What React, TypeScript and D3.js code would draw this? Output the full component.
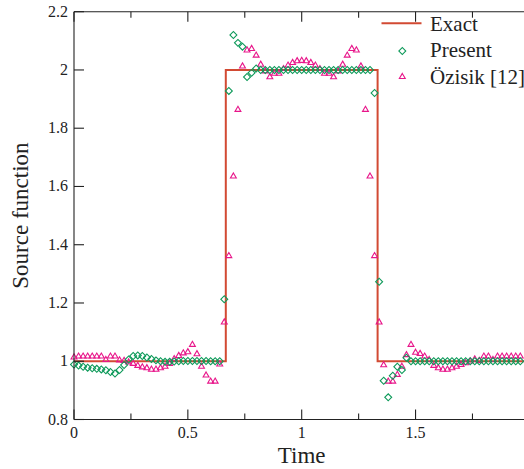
import React from "react";
import * as d3 from "d3";

const timeStep = 0.02;
const presentValues = [
  0.989, 0.985, 0.981, 0.978, 0.976, 0.974, 0.972, 0.969, 0.963, 0.958,
  0.970, 0.987, 1.006, 1.018, 1.020, 1.018, 1.013, 1.008, 1.003, 1.000,
  0.998, 0.998, 0.999, 1.000, 1.001, 1.001, 1.001, 1.001, 1.001, 1.001,
  1.000, 1.000, 1.000, 1.213, 1.928, 2.120, 2.093, 2.080, 1.976, 1.990,
  2.005, 2.000, 2.000, 2.000, 2.000, 2.000, 2.000, 2.000, 2.000, 2.000,
  2.000, 2.000, 2.000, 2.000, 2.000, 2.000, 2.000, 2.000, 2.000, 2.000,
  2.000, 2.000, 2.000, 2.000, 2.000, 2.000, 1.921, 1.273, 0.933, 0.876,
  0.950, 0.981, 0.970, 1.012, 1.000, 1.000, 1.000, 1.000, 1.000, 1.000,
  1.000, 1.000, 1.000, 1.000, 1.000, 1.000, 1.000, 1.000, 1.000, 1.000,
  1.000, 1.000, 1.000, 1.000, 1.000, 1.000, 1.000, 1.000, 1.000,
];
const ozisikValues = [
  1.012, 1.015, 1.015, 1.015, 1.015, 1.015, 1.015, 1.003, 1.015, 1.015,
  1.002, 1.000, 0.995, 0.990, 0.983, 0.978, 0.975, 0.970, 0.970, 0.975,
  0.980, 0.990, 1.006, 1.017, 1.026, 1.030, 1.055, 1.023, 0.980, 0.950,
  0.929, 0.929, 0.988, 1.132, 1.360, 1.633, 1.862, 2.011, 2.066, 2.071,
  2.048, 2.017, 1.994, 1.974, 1.986, 1.986, 2.002, 2.014, 2.023, 2.029,
  2.030, 2.029, 2.023, 2.014, 2.002, 1.986, 1.986, 1.974, 1.994, 2.017,
  2.048, 2.071, 2.066, 2.011, 1.862, 1.633, 1.360, 1.132, 0.985, 0.929,
  0.929, 0.952, 0.980, 1.020, 1.055, 1.028, 1.024, 1.015, 1.003, 0.983,
  0.975, 0.970, 0.970, 0.975, 0.980, 0.986, 0.992, 0.998, 1.005, 1.000,
  1.015, 1.015, 1.003, 1.015, 1.015, 1.015, 1.015, 1.015, 1.015,
];
const exactTimes = [0, 2 / 3, 2 / 3, 4 / 3, 4 / 3, 2];
const exactValues = [1, 1, 2, 2, 1, 1];
const xMajorTicks = [0, 0.5, 1, 1.5, 2];
const xMinorTicks = [0.25, 0.75, 1.25, 1.75];
const yTicks = [0.8, 1, 1.2, 1.4, 1.6, 1.8, 2, 2.2];
const legendLabels = ["Exact", "Present", "Özisik [12]"];

const W = 524;
const H = 469;
const X0 = 74;
const PX_PER_UNIT = 227.7;
const YB = 419.5;
const YT = 11.7;

const RED = "#d24a33";
const GREEN = "#0e9a5a";
const MAGENTA = "#e8168a";
const FF = "Liberation Serif";
const textStyle = { fontFamily: FF };

export default function App() {
  const x = d3.scaleLinear().domain([0, 2]).range([X0, X0 + 2 * PX_PER_UNIT]);
  const y = d3.scaleLinear().domain([0.8, 2.2]).range([YB, YT]);
  const xEnd = x(2);

  const exactLine = d3
    .line<number>()
    .x((_, i) => x(exactTimes[i]))
    .y((d) => y(d))(exactValues) as string;

  const diamond = d3.symbol().type(d3.symbolSquare).size(24)() as string;
  const triangle = d3.symbol().type(d3.symbolTriangle).size(15)() as string;

  const fmt = (v: number) => String(+v.toFixed(2));

  return (
    <div style={{ position: "absolute", left: 0, top: 0, width: W, height: H, fontFamily: FF }}>
      <svg width={W} height={H} style={{ display: "block", fontFamily: FF }} fontFamily={FF}>
        <rect x={0} y={0} width={W} height={H} fill="#fff" />
        <path d={exactLine} fill="none" stroke={RED} strokeWidth={2} />
        {ozisikValues.map((v, i) => (
          <path
            key={"t" + i}
            d={triangle}
            transform={`translate(${x(i * timeStep)},${y(v) - 0.5})`}
            fill="none"
            stroke={MAGENTA}
            strokeWidth={1.1}
          />
        ))}
        {presentValues.map((v, i) => (
          <path
            key={"d" + i}
            d={diamond}
            transform={`translate(${x(i * timeStep)},${y(v)}) rotate(45)`}
            fill="none"
            stroke={GREEN}
            strokeWidth={1.1}
          />
        ))}
        <g stroke="#222" strokeWidth={1.1} fill="none">
          <line x1={X0} x2={xEnd} y1={YB} y2={YB} />
          <line x1={X0} x2={xEnd} y1={YT} y2={YT} />
          <line x1={X0} x2={X0} y1={YT} y2={YB} />
          {xMajorTicks.map((t) => (
            <g key={"xm" + t}>
              <line x1={x(t)} x2={x(t)} y1={YB} y2={YB - 10} />
              <line x1={x(t)} x2={x(t)} y1={YT} y2={YT + 10} />
            </g>
          ))}
          {xMinorTicks.map((t) => (
            <g key={"xn" + t}>
              <line x1={x(t)} x2={x(t)} y1={YB} y2={YB - 6} />
              <line x1={x(t)} x2={x(t)} y1={YT} y2={YT + 6} />
            </g>
          ))}
          {yTicks.map((t) => (
            <line key={"y" + t} x1={X0} x2={X0 + 10} y1={y(t)} y2={y(t)} />
          ))}
        </g>
        {xMajorTicks.slice(0, 4).map((t) => (
          <text key={"xl" + t} x={x(t)} y={437.5} textAnchor="middle" fontSize={16} fill="#222" fontFamily={FF} style={textStyle}>
            {fmt(t)}
          </text>
        ))}
        {yTicks.map((t) => (
          <text key={"yl" + t} x={68} y={y(t) + 5} textAnchor="end" fontSize={16} fill="#222" fontFamily={FF} style={textStyle}>
            {fmt(t)}
          </text>
        ))}
        <text x={x(1)} y={463} textAnchor="middle" fontSize={23} fill="#222" fontFamily={FF} style={textStyle}>
          Time
        </text>
        <text
          transform={`translate(28,${(YT + YB) / 2}) rotate(-90)`}
          textAnchor="middle"
          fontSize={23}
          fill="#222"
          fontFamily={FF}
          style={textStyle}
        >
          Source function
        </text>
        <line x1={381.5} x2={421.5} y1={23.3} y2={23.3} stroke={RED} strokeWidth={2} />
        <path d={diamond} transform="translate(402.3,51) rotate(45)" fill="none" stroke={GREEN} strokeWidth={1.1} />
        <path d={triangle} transform="translate(402.3,76.8)" fill="none" stroke={MAGENTA} strokeWidth={1.1} />
        {legendLabels.map((l, i) => (
          <text key={l} x={430} y={30.5 + i * 26.5} fontSize={21} fill="#222" fontFamily={FF} style={textStyle}>
            {l}
          </text>
        ))}
      </svg>
    </div>
  );
}
